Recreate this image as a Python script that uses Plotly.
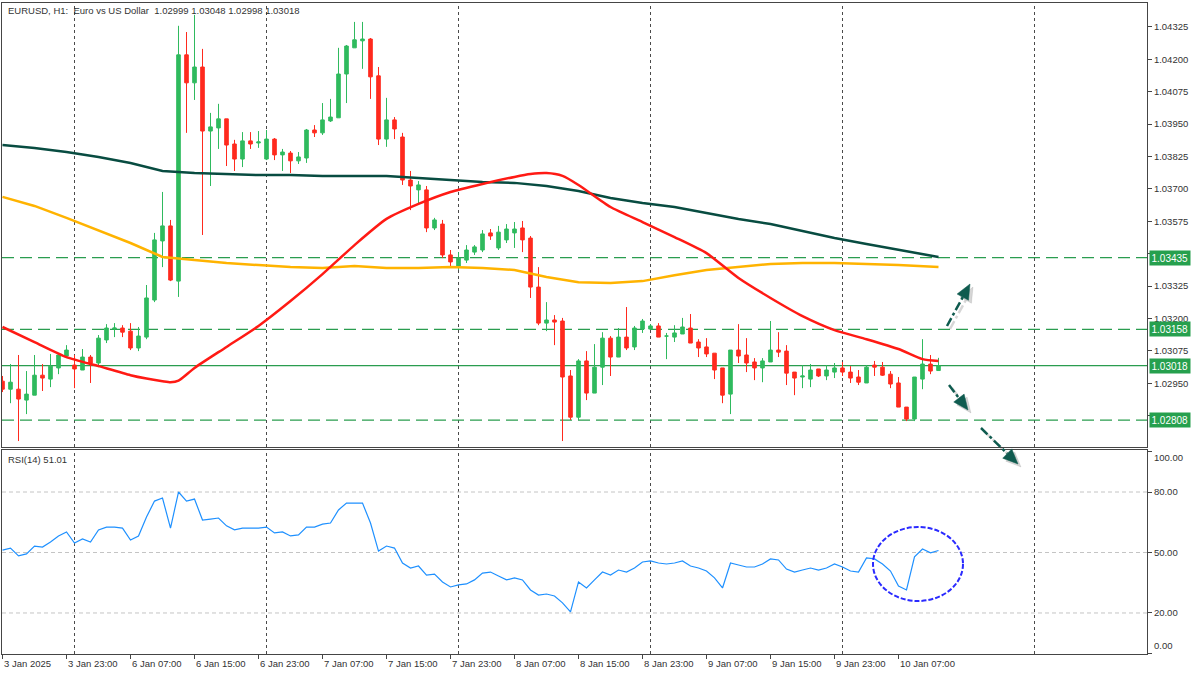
import plotly.graph_objects as go

# ---------------- data ----------------
chart_title = "EURUSD, H1:\u00a0 Euro vs US Dollar\u00a0 1.02999 1.03048 1.02998 1.03018"
rsi_title = "RSI(14) 51.01"

bar_idx = list(range(118))

open_ = [1.02958, 1.02927, 1.02927, 1.02885, 1.02904, 1.02981, 1.02966, 1.03009, 1.03055, 1.03020,
         1.03001, 1.03051, 1.03028, 1.03117, 1.03159, 1.03163, 1.03151, 1.03086, 1.03128, 1.03271,
         1.03499, 1.03557, 1.03344, 1.04217, 1.04109, 1.04170, 1.03923, 1.03935, 1.03970, 1.03873,
         1.03815, 1.03885, 1.03877, 1.03815, 1.03892, 1.03831, 1.03838, 1.03808, 1.03819, 1.03927,
         1.03916, 1.03962, 1.03974, 1.04143, 1.04244, 1.04271, 1.04278, 1.04136, 1.03892, 1.03966,
         1.03900, 1.03734, 1.03696, 1.03696, 1.03549, 1.03564, 1.03445, 1.03402, 1.03425, 1.03456,
         1.03464, 1.03530, 1.03472, 1.03503, 1.03530, 1.03549, 1.03510, 1.03321, 1.03182, 1.03194,
         1.03190, 1.02978, 1.02819, 1.03036, 1.02912, 1.03012, 1.03124, 1.03051, 1.03128, 1.03090,
         1.03159, 1.03159, 1.03171, 1.03132, 1.03128, 1.03140, 1.03163, 1.03109, 1.03090, 1.03066,
         1.03009, 1.02908, 1.03078, 1.03059, 1.03032, 1.03009, 1.03032, 1.03078, 1.03074, 1.02993,
         1.02974, 1.02966, 1.03005, 1.02978, 1.02993, 1.03009, 1.02993, 1.02974, 1.02951, 1.03020,
         1.03012, 1.02985, 1.02951, 1.02858, 1.02812, 1.02966, 1.03024, 1.02999]

high = [1.02978, 1.03024, 1.03059, 1.02997, 1.03059, 1.03024, 1.03063, 1.03066, 1.03097, 1.03059,
        1.03082, 1.03059, 1.03136, 1.03178, 1.03182, 1.03174, 1.03182, 1.03167, 1.03329, 1.03530,
        1.03688, 1.03580, 1.04329, 1.04305, 1.04371, 1.04240, 1.03993, 1.04028, 1.03970, 1.03889,
        1.03919, 1.03919, 1.03923, 1.03927, 1.03896, 1.03854, 1.03846, 1.03842, 1.03931, 1.03946,
        1.04031, 1.04047, 1.04244, 1.04255, 1.04344, 1.04344, 1.04282, 1.04170, 1.04051, 1.03977,
        1.03916, 1.03769, 1.03730, 1.03711, 1.03588, 1.03580, 1.03464, 1.03456, 1.03483, 1.03483,
        1.03541, 1.03545, 1.03557, 1.03564, 1.03572, 1.03576, 1.03518, 1.03398, 1.03263, 1.03213,
        1.03202, 1.03001, 1.03043, 1.03074, 1.03101, 1.03147, 1.03132, 1.03163, 1.03244, 1.03171,
        1.03198, 1.03178, 1.03182, 1.03144, 1.03174, 1.03202, 1.03217, 1.03120, 1.03124, 1.03066,
        1.03009, 1.03078, 1.03178, 1.03124, 1.03047, 1.03047, 1.03190, 1.03147, 1.03097, 1.02993,
        1.03020, 1.03024, 1.03005, 1.03020, 1.03028, 1.03032, 1.03016, 1.03001, 1.03020, 1.03036,
        1.03032, 1.02997, 1.02974, 1.02858, 1.02974, 1.03120, 1.03059, 1.03048]

low = [1.02916, 1.02873, 1.02727, 1.02831, 1.02904, 1.02920, 1.02935, 1.02985, 1.03047, 1.02931,
       1.03001, 1.02951, 1.03012, 1.03105, 1.03128, 1.03128, 1.03078, 1.03074, 1.03120, 1.03263,
       1.03398, 1.03344, 1.03283, 1.03916, 1.04043, 1.03522, 1.03711, 1.03854, 1.03788, 1.03769,
       1.03784, 1.03854, 1.03858, 1.03811, 1.03811, 1.03769, 1.03761, 1.03796, 1.03800, 1.03900,
       1.03908, 1.03958, 1.03974, 1.04031, 1.04244, 1.04163, 1.04047, 1.03869, 1.03862, 1.03892,
       1.03715, 1.03618, 1.03638, 1.03533, 1.03541, 1.03433, 1.03395, 1.03387, 1.03414, 1.03445,
       1.03456, 1.03503, 1.03464, 1.03491, 1.03472, 1.03456, 1.03279, 1.03174, 1.03151, 1.03097,
       1.02727, 1.02808, 1.02808, 1.02885, 1.02912, 1.02943, 1.02978, 1.03051, 1.03078, 1.03078,
       1.03144, 1.03159, 1.03128, 1.03043, 1.03109, 1.03140, 1.03105, 1.03051, 1.03051, 1.02966,
       1.02873, 1.02831, 1.03028, 1.02993, 1.02962, 1.02954, 1.03032, 1.03051, 1.02943, 1.02904,
       1.02931, 1.02935, 1.02974, 1.02962, 1.02970, 1.02978, 1.02951, 1.02943, 1.02951, 1.02978,
       1.02978, 1.02931, 1.02858, 1.02804, 1.02804, 1.02927, 1.02985, 1.02998]

close = [1.02927, 1.02954, 1.02889, 1.02908, 1.02981, 1.02970, 1.03016, 1.03059, 1.03078, 1.03005,
         1.03051, 1.03028, 1.03124, 1.03163, 1.03163, 1.03147, 1.03086, 1.03132, 1.03279, 1.03503,
         1.03557, 1.03348, 1.04217, 1.04109, 1.04170, 1.03923, 1.03939, 1.03970, 1.03869, 1.03815,
         1.03885, 1.03873, 1.03881, 1.03892, 1.03831, 1.03842, 1.03808, 1.03823, 1.03927, 1.03916,
         1.03966, 1.03977, 1.04143, 1.04251, 1.04275, 1.04278, 1.04132, 1.03892, 1.03966, 1.03931,
         1.03734, 1.03711, 1.03715, 1.03549, 1.03580, 1.03445, 1.03418, 1.03433, 1.03464, 1.03476,
         1.03526, 1.03518, 1.03533, 1.03545, 1.03545, 1.03503, 1.03321, 1.03182, 1.03194, 1.03186,
         1.02974, 1.02819, 1.03036, 1.02912, 1.03012, 1.03124, 1.03051, 1.03128, 1.03086, 1.03163,
         1.03190, 1.03171, 1.03128, 1.03132, 1.03144, 1.03167, 1.03105, 1.03086, 1.03063, 1.03001,
         1.02904, 1.03078, 1.03055, 1.03028, 1.03009, 1.03036, 1.03078, 1.03070, 1.02989, 1.02970,
         1.02978, 1.03001, 1.02978, 1.03001, 1.03009, 1.02993, 1.02970, 1.02954, 1.03012, 1.03012,
         1.02981, 1.02947, 1.02858, 1.02812, 1.02974, 1.03024, 1.02997, 1.03018]

rsi = [51.2, 52.2, 48.3, 49.3, 53.2, 52.7, 55.2, 58.2, 60.2, 54.7,
       56.7, 55.2, 61.2, 62.6, 62.6, 62.1, 56.2, 58.2, 67.6, 75.5,
       77.0, 62.1, 80.0, 75.5, 76.5, 66.1, 66.6, 67.1, 63.2, 61.2,
       62.1, 62.1, 62.1, 62.6, 59.7, 60.2, 58.2, 58.7, 62.6, 62.6,
       64.1, 64.6, 71.1, 74.5, 74.5, 74.5, 64.6, 50.7, 53.2, 52.2,
       44.8, 42.3, 43.3, 38.8, 39.3, 35.4, 32.9, 33.9, 34.4, 36.4,
       39.8, 40.3, 38.3, 36.4, 37.4, 36.4, 31.4, 28.9, 29.4, 28.4,
       25.0, 20.5, 35.4, 32.4, 36.4, 40.3, 38.8, 41.3, 40.3, 42.3,
       45.3, 45.8, 44.8, 44.3, 44.8, 45.8, 43.3, 42.3, 40.8, 37.4,
       32.4, 44.8, 43.8, 42.8, 42.8, 44.3, 46.8, 46.3, 41.8, 40.3,
       41.3, 42.3, 41.3, 42.3, 44.3, 42.8, 40.8, 40.3, 47.3, 46.8,
       44.3, 40.8, 33.4, 31.4, 47.8, 51.7, 49.8, 51.01]

# moving averages (read at sampled bars)
ma_red_idx = [0, 4, 8, 12, 16, 18, 20, 21, 22, 24, 28, 32, 36, 40, 44, 48, 52, 56, 60, 64, 66, 68,
              70, 72, 76, 80, 84, 88, 92, 96, 100, 104, 108, 112, 115, 117]
ma_red = [1.03167, 1.03109, 1.03051, 1.03016, 1.02981, 1.02968, 1.02958, 1.02954, 1.02960, 1.03009,
          1.03090, 1.03171, 1.03267, 1.03371, 1.03483, 1.03584, 1.03642, 1.03688, 1.03719, 1.03746,
          1.03757, 1.03761, 1.03750, 1.03715, 1.03630, 1.03572, 1.03514, 1.03452, 1.03356, 1.03279,
          1.03209, 1.03155, 1.03120, 1.03082, 1.03043, 1.03036]

ma_slow_idx = [0, 4, 8, 12, 16, 20, 24, 28, 32, 36, 40, 44, 48, 52, 56, 60, 64, 68, 72, 76,
               80, 84, 88, 92, 96, 100, 104, 108, 112, 117]
ma_orange = [1.03669, 1.03634, 1.03588, 1.03541, 1.03491, 1.03437, 1.03425, 1.03414, 1.03406, 1.03398,
             1.03395, 1.03402, 1.03395, 1.03395, 1.03398, 1.03395, 1.03387, 1.03360, 1.03340, 1.03337,
             1.03344, 1.03367, 1.03387, 1.03398, 1.03410, 1.03414, 1.03414, 1.03410, 1.03406, 1.03398]
ma_dark = [1.03869, 1.03858, 1.03842, 1.03823, 1.03800, 1.03769, 1.03761, 1.03757, 1.03753, 1.03753,
           1.03750, 1.03750, 1.03750, 1.03742, 1.03734, 1.03726, 1.03723, 1.03711, 1.03692, 1.03665,
           1.03645, 1.03630, 1.03607, 1.03584, 1.03564, 1.03537, 1.03510, 1.03487, 1.03464, 1.03437]

time_tick_idx = [0, 8, 16, 24, 32, 40, 48, 56, 64, 72, 80, 88, 96, 104, 112]
time_tick_labels = ["3 Jan 2025", "3 Jan 23:00", "6 Jan 07:00", "6 Jan 15:00", "6 Jan 23:00",
                    "7 Jan 07:00", "7 Jan 15:00", "7 Jan 23:00", "8 Jan 07:00", "8 Jan 15:00",
                    "8 Jan 23:00", "9 Jan 07:00", "9 Jan 15:00", "9 Jan 23:00", "10 Jan 07:00"]
day_grid_idx = [9, 33, 57, 81, 105, 129]

price_ticks = [1.04325, 1.04200, 1.04075, 1.03950, 1.03825, 1.03700, 1.03575, 1.03450,
               1.03325, 1.03200, 1.03075, 1.02950, 1.02825]
rsi_ticks = [0, 20, 50, 80, 100]
rsi_tick_labels = ["", "20.00", "50.00", "80.00", ""]
rsi_levels = [80, 50, 20]

level_dashed = [1.03435, 1.03158, 1.02808]
level_current = 1.03018

# ---------------- style ----------------
W, H = 1200, 675
ML, MR, MT, MB = 2, 53, 3, 21
PW = W - ML - MR
PH = H - MT - MB
FONT = "Liberation Sans, Arial, sans-serif"
TXT = "#333333"
FRAME = "#454545"
C_UP = "#2fba5e"
C_DN = "#ff2a1e"
C_LEVEL = "#2a9d4f"
C_LABEL = "#26a04e"
C_ARROW = "#0f5b4f"


def px(x, y):
    return (x - ML) / PW, (H - MB - y) / PH


main_dom = [(H - MB - 447) / PH, 1.0]
rsi_dom = [0.0, (H - MB - 450) / PH]

fig = go.Figure()

fig.add_trace(go.Candlestick(
    x=bar_idx, open=open_, high=high, low=low, close=close,
    increasing=dict(line=dict(color=C_UP, width=1), fillcolor=C_UP),
    decreasing=dict(line=dict(color=C_DN, width=1), fillcolor=C_DN),
    whiskerwidth=0, xaxis="x", yaxis="y", hoverinfo="skip", showlegend=False))

fig.add_trace(go.Scatter(x=ma_slow_idx, y=ma_orange, mode="lines",
                         line=dict(color="#ffb300", width=2.5), xaxis="x", yaxis="y",
                         hoverinfo="skip", showlegend=False))
fig.add_trace(go.Scatter(x=ma_slow_idx, y=ma_dark, mode="lines",
                         line=dict(color="#084c41", width=2.5), xaxis="x", yaxis="y",
                         hoverinfo="skip", showlegend=False))
fig.add_trace(go.Scatter(x=ma_red_idx, y=ma_red, mode="lines", line_shape="spline",
                         line=dict(color="#ff1a14", width=2.5, smoothing=0.6), xaxis="x", yaxis="y",
                         hoverinfo="skip", showlegend=False))

fig.add_trace(go.Scatter(x=bar_idx, y=rsi, mode="lines",
                         line=dict(color="#1e90ff", width=1.2), xaxis="x2", yaxis="y2",
                         hoverinfo="skip", showlegend=False))

shapes = []
# day separators
for k in day_grid_idx:
    for yr in ("y domain", "y2 domain"):
        shapes.append(dict(type="line", xref="x", yref=yr, x0=k, x1=k, y0=0, y1=1,
                           line=dict(color="#4a4a4a", width=1, dash="3px,3px"), layer="below"))
# rsi levels
for lv in rsi_levels:
    shapes.append(dict(type="line", xref="x domain", yref="y2", x0=0, x1=1, y0=lv, y1=lv,
                       line=dict(color="#c4c4c4", width=1, dash="4px,3px"), layer="below"))
# price levels
for lv in level_dashed:
    shapes.append(dict(type="line", xref="x domain", yref="y", x0=0, x1=1, y0=lv, y1=lv,
                       line=dict(color=C_LEVEL, width=1.3, dash="12px,6px"), layer="below"))
shapes.append(dict(type="line", xref="x domain", yref="y", x0=0, x1=1,
                   y0=level_current, y1=level_current,
                   line=dict(color=C_LEVEL, width=1.2), layer="below"))

# arrows (pixel-based decoration)
arrows = [((947, 326), (970, 284)), ((949, 385), (968, 410)), ((981, 428), (1018, 464))]
for (sx, sy), (tx, ty) in arrows:
    dx, dy = tx - sx, ty - sy
    ln = (dx * dx + dy * dy) ** 0.5
    ux, uy = dx / ln, dy / ln
    nx, ny = -uy, ux
    L, w = 15, 6.5
    bx, by = tx - L * ux, ty - L * uy
    for off, col in ((3, "rgba(0,0,0,0.16)"), (0, C_ARROW)):
        a0 = px(sx + off, sy + off)
        a1 = px(bx + off, by + off)
        shapes.append(dict(type="line", xref="paper", yref="paper",
                           x0=a0[0], y0=a0[1], x1=a1[0], y1=a1[1],
                           line=dict(color=col, width=2.5, dash="dashdot")))
        p1 = px(tx + off, ty + off)
        p2 = px(bx + w * nx + off, by + w * ny + off)
        p3 = px(bx - w * nx + off, by - w * ny + off)
        path = f"M {p1[0]} {p1[1]} L {p2[0]} {p2[1]} L {p3[0]} {p3[1]} Z"
        shapes.append(dict(type="path", xref="paper", yref="paper", path=path,
                           fillcolor=col, line=dict(color=col, width=0.5)))

# ellipse around RSI
e0 = px(873, 601)
e1 = px(963, 527)
shapes.append(dict(type="circle", xref="paper", yref="paper",
                   x0=e0[0], y0=e0[1], x1=e1[0], y1=e1[1],
                   line=dict(color="#2a2aff", width=2, dash="5px,2px")))

annotations = []
tx0, ty0 = px(6, 3)
annotations.append(dict(text=chart_title, xref="paper", yref="paper", x=tx0, y=ty0,
                        xanchor="left", yanchor="top", showarrow=False,
                        font=dict(family=FONT, size=9.5, color=TXT)))
rx0, ry0 = px(6, 452)
annotations.append(dict(text=rsi_title, xref="paper", yref="paper", x=rx0, y=ry0,
                        xanchor="left", yanchor="top", showarrow=False,
                        font=dict(family=FONT, size=9.5, color=TXT)))
# time labels
lab_y = px(0, 656)[1]
for k, t in zip(time_tick_idx, time_tick_labels):
    annotations.append(dict(text=t, xref="x2", yref="paper", x=k, y=lab_y,
                            xanchor="left", yanchor="top", showarrow=False, xshift=-1,
                            font=dict(family=FONT, size=9.5, color=TXT)))
# price level labels
for lv in level_dashed + [level_current]:
    annotations.append(dict(text=f"{lv:.5f}", xref="paper", yref="y", x=1, y=lv,
                            xanchor="left", yanchor="middle", xshift=2, showarrow=False,
                            bgcolor=C_LABEL, borderpad=1.5,
                            font=dict(family=FONT, size=10, color="white")))
# rsi extreme labels
annotations.append(dict(text="100.00", xref="paper", yref="y2", x=1, y=100, xanchor="left",
                        yanchor="top", xshift=5, yshift=2, showarrow=False,
                        font=dict(family=FONT, size=9.5, color=TXT)))
annotations.append(dict(text="0.00", xref="paper", yref="y2", x=1, y=0, xanchor="left",
                        yanchor="bottom", xshift=5, showarrow=False,
                        font=dict(family=FONT, size=9.5, color=TXT)))

xr = [-0.0625, PW / 8 - 0.0625]
axis_common = dict(showgrid=False, zeroline=False, showline=True, mirror=True,
                   linecolor=FRAME, linewidth=1)

fig.update_layout(
    width=W, height=H,
    margin=dict(l=ML, r=MR, t=MT, b=MB),
    paper_bgcolor="white", plot_bgcolor="white",
    showlegend=False, hovermode=False,
    boxmode="overlay", boxgap=0.36,
    xaxis=dict(domain=[0, 1], anchor="y", range=xr, showticklabels=False, ticks="",
               rangeslider=dict(visible=False), **axis_common),
    xaxis2=dict(domain=[0, 1], anchor="y2", range=xr, matches="x", showticklabels=False,
                ticks="outside", ticklen=4, tickcolor=FRAME, tickvals=time_tick_idx,
                **axis_common),
    yaxis=dict(domain=main_dom, anchor="x", side="right", range=[1.02704, 1.04417],
               tickvals=price_ticks, ticktext=[f"{v:.5f}" for v in price_ticks],
               ticks="outside", ticklen=4, tickcolor=FRAME,
               tickfont=dict(family=FONT, size=9.5, color=TXT), **axis_common),
    yaxis2=dict(domain=rsi_dom, anchor="x2", side="right", range=[-0.35, 100.84],
                tickvals=rsi_ticks, ticktext=rsi_tick_labels,
                ticks="outside", ticklen=4, tickcolor=FRAME,
                tickfont=dict(family=FONT, size=9.5, color=TXT), **axis_common),
    shapes=shapes, annotations=annotations,
)

fig.write_html("out.html", config={"displayModeBar": False},
               post_script="document.body.style.margin='0px';document.body.style.overflow='hidden';")
